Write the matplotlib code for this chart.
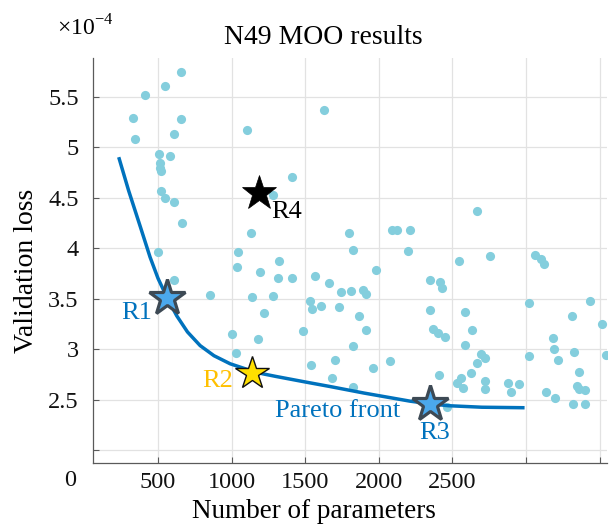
import numpy as np
import matplotlib
matplotlib.use("Agg")
import matplotlib.pyplot as plt
from matplotlib import transforms

plt.rcParams['font.family'] = ['Liberation Serif', 'DejaVu Serif']
plt.rcParams['mathtext.fontset'] = 'custom'
plt.rcParams['mathtext.rm'] = 'Liberation Serif'

# --- data (loss in units of 1e-4) ---
n_params = [654, 550, 409, 332, 659, 346, 609, 1103, 507, 582, 511, 514, 523,
            523, 545, 609, 665, 1131, 502, 1042, 1625, 1409, 1282, 1797, 2087,
            2121, 2214, 1824, 2201, 1323, 2670, 2545, 2756, 3062, 3100, 3120,
            1035, 1190, 611, 852, 1135, 1222, 1003, 1180, 1028, 1314, 1409,
            1563, 1659, 1740, 1808, 1894, 1910, 1981, 1278, 1534, 1546, 1609,
            1727, 1867, 1482, 1910, 1825, 1536, 1704, 1960, 2073, 1679, 1825,
            2346, 2415, 2432, 2346, 2366, 2400, 2410, 2584, 2636, 2450, 2588,
            2693, 2724, 2670, 2629, 2534, 2557, 2570, 2720, 2724, 2876, 2899,
            2949, 3022, 3017, 3185, 3187, 3216, 3133, 3194, 3310, 3432, 3514,
            3323, 3543, 3357, 3346, 3360, 3403, 3318, 3403, 2460]
val_loss = [5.74, 5.60, 5.52, 5.29, 5.28, 5.08, 5.13, 5.17, 4.93, 4.91, 4.84,
            4.79, 4.76, 4.57, 4.50, 4.46, 4.25, 4.15, 3.96, 3.96, 5.37, 4.70,
            4.53, 4.15, 4.18, 4.18, 4.18, 3.98, 3.97, 3.87, 4.37, 3.87, 3.92,
            3.93, 3.89, 3.84, 3.81, 3.76, 3.68, 3.54, 3.52, 3.36, 3.15, 3.10,
            2.96, 3.70, 3.70, 3.72, 3.65, 3.57, 3.58, 3.59, 3.55, 3.78, 3.53,
            3.48, 3.40, 3.43, 3.42, 3.33, 3.18, 3.19, 3.03, 2.84, 2.89, 2.81,
            2.88, 2.71, 2.63, 3.68, 3.66, 3.61, 3.39, 3.20, 3.16, 2.74, 3.37,
            3.19, 3.12, 3.04, 2.95, 2.91, 2.86, 2.76, 2.66, 2.71, 2.62, 2.68,
            2.61, 2.66, 2.58, 2.65, 3.46, 2.93, 3.11, 3.00, 2.89, 2.58, 2.52,
            3.33, 3.48, 3.25, 2.97, 2.94, 2.77, 2.64, 2.61, 2.60, 2.46, 2.46,
            2.43]

# pareto front, points
front_x = [233, 300, 380, 446, 500, 561, 627, 700, 786, 880, 990, 1135, 1214,
           1300, 1500, 1668, 1900, 2212, 2350, 2473, 2700, 2990]
front_y = [4.90, 4.57, 4.21, 3.91, 3.70, 3.51, 3.33, 3.17, 3.035, 2.935, 2.855,
           2.785, 2.755, 2.73, 2.675, 2.63, 2.565, 2.485, 2.458, 2.44, 2.425, 2.42]

# selected designs R1..R4
sel_names = ['R1', 'R2', 'R3', 'R4']
sel_x = [561, 1135, 2348, 1188]
sel_y = [3.51, 2.76, 2.46, 4.55]

xticks = [500, 1000, 1500, 2000, 2500, 3000, 3500]
xticklabels = ['500', '1000', '1500', '2000', '2500', '', '']
yticks = [2, 2.5, 3, 3.5, 4, 4.5, 5, 5.5]
yticklabels = ['', '2.5', '3', '3.5', '4', '4.5', '5', '5.5']

blue = '#0072BD'
dot_c = '#84CEDD'
spine_c = '#5a5a5a'

fig = plt.figure(figsize=(6.15, 5.24), dpi=100)
ax = fig.add_axes([0.1507, 0.117, 0.8363, 0.772])

ax.plot(n_params, val_loss, 'o', ms=6.6, color=dot_c, mec='none', zorder=2)
ax.plot(front_x, front_y, '-', color=blue, lw=2.5, zorder=3,
        solid_capstyle='butt', solid_joinstyle='round')

# stars
ax.plot(sel_x[0], sel_y[0], '*', ms=27, mfc='#4BA8EC', mec='#3d4954', mew=2.3, zorder=5)
ax.plot(sel_x[2], sel_y[2], '*', ms=27, mfc='#4BA8EC', mec='#3d4954', mew=2.3, zorder=5)
ax.plot(sel_x[1], sel_y[1], '*', ms=25, mfc='#FFDF00', mec='#111111', mew=1.0, zorder=5)
ax.plot(sel_x[3], sel_y[3], '*', ms=26, mfc='black', mec='black', mew=0.5, zorder=5)

fs_ann = 19
ax.text(357, 3.36, 'R1', color=blue, fontsize=fs_ann, ha='center', va='center', zorder=6)
ax.text(908, 2.685, 'R2', color='#FFC000', fontsize=fs_ann, ha='center', va='center', zorder=6)
ax.text(2378, 2.17, 'R3', color=blue, fontsize=fs_ann, ha='center', va='center', zorder=6)
ax.text(1371, 4.36, 'R4', color='black', fontsize=fs_ann, ha='center', va='center', zorder=6)
ax.text(1718, 2.39, 'Pareto front', color=blue, fontsize=fs_ann, ha='center', va='center', zorder=6)

ax.set_xlim(56, 3550)
ax.set_ylim(1.876, 5.88)
ax.set_xticks(xticks)
ax.set_xticklabels(xticklabels)
ax.set_yticks(yticks)
ax.set_yticklabels(yticklabels)
ax.tick_params(direction='in', length=4, width=0.8, color=spine_c,
               labelsize=17.5, labelcolor='#111111')
ax.tick_params(axis='y', pad=10)
ax.tick_params(axis='x', pad=7)
ax.grid(True, color='#e2e2e2', lw=0.9)
ax.set_axisbelow(True)
for s in ['top', 'right']:
    ax.spines[s].set_visible(False)
for s in ['left', 'bottom']:
    ax.spines[s].set_color(spine_c)
    ax.spines[s].set_linewidth(0.9)

# lone "0" label left of the axis
trans = transforms.blended_transform_factory(ax.transData, ax.transAxes)
ax.text(-94, -0.045, '0', transform=trans, fontsize=17.5, ha='center',
        va='center', color='#111111', clip_on=False)

ax.set_xlabel('Number of parameters', fontsize=19.5)
ax.xaxis.set_label_coords(0.43, -0.09)
ax.set_ylabel('Validation loss', fontsize=20)
ax.yaxis.set_label_coords(-0.105, 0.475)

fig.text(323 / 615, 1 - 38 / 524, 'N49 MOO results', fontsize=20,
         ha='center', va='center')
fig.text(57 / 615, 1 - 28 / 524, r'×10$^{\mathrm{-4}}$', fontsize=17,
         ha='left', va='center')

fig.savefig('out.png', dpi=100)
